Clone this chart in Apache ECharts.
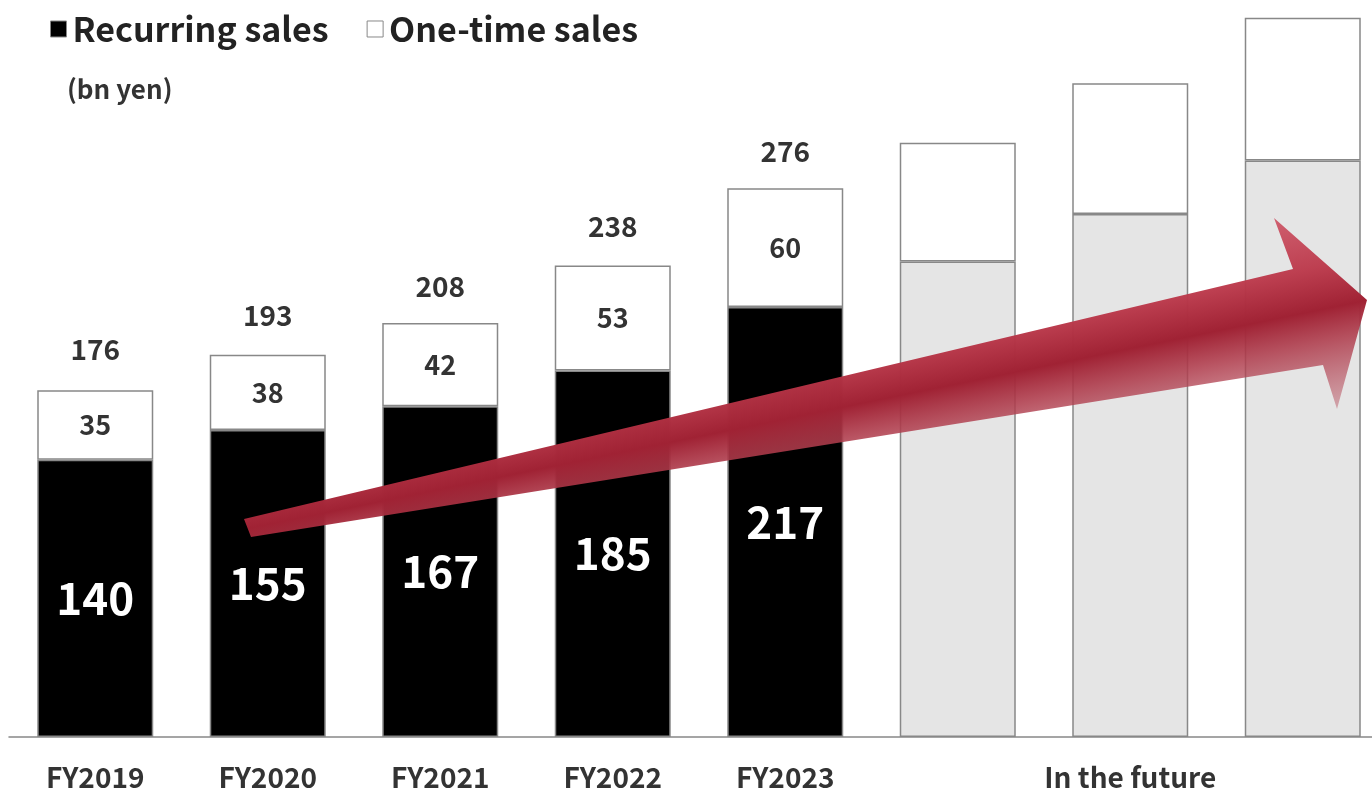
<!DOCTYPE html>
<html>
<head>
<meta charset="utf-8">
<script src="https://cdn.jsdelivr.net/npm/echarts@6/dist/echarts.min.js"></script>
<style>
html,body{margin:0;padding:0;background:#fff;}
#chart{width:1372px;height:791px;}
</style>
</head>
<body>
<div id="chart"></div>
<script>
// ---- data ----
var categories = ['FY2019', 'FY2020', 'FY2021', 'FY2022', 'FY2023', 'Future 1', 'Future 2', 'Future 3'];
var tickLabels = ['FY2019', 'FY2020', 'FY2021', 'FY2022', 'FY2023', '', 'In the future', ''];
var recurringSales = [140, 155, 167, 185, 217, 240, 264, 291];
var oneTimeSales = [35, 38, 42, 53, 60, 60, 66, 72];
var totalSales = [176, 193, 208, 238, 276, null, null, null];
var actualCount = 5; // first five categories are actual results

var FONT = '"Noto Sans CJK JP", "Noto Sans", sans-serif';
var chart = echarts.init(document.getElementById('chart'));

var recurringData = recurringSales.map(function (v, i) {
  if (i < actualCount) return v;
  return { value: v, itemStyle: { color: '#e5e5e5' }, label: { show: false } };
});
var oneTimeData = oneTimeSales.map(function (v, i) {
  if (i < actualCount) return v;
  return { value: v, label: { show: false } };
});

// arrow geometry (decoration)
var arrowPts = [[244, 519], [1293, 269], [1274, 218], [1367, 300], [1337, 409], [1323, 365], [251, 537]];
var arrowFill = new echarts.graphic.LinearGradient(1279, 211, 1321, 417, [
  { offset: 0, color: 'rgba(208,92,108,0.95)' },
  { offset: 0.3, color: 'rgba(188,58,76,0.97)' },
  { offset: 0.5, color: 'rgba(160,34,52,1)' },
  { offset: 0.65, color: 'rgba(175,60,76,0.88)' },
  { offset: 1, color: 'rgba(188,95,108,0.45)' }
], true);

chart.setOption({
  animation: false,
  backgroundColor: '#fff',
  textStyle: { fontFamily: FONT },
  title: {
    text: '(bn yen)',
    left: 62, top: 71,
    textStyle: { fontFamily: FONT, fontSize: 26, fontWeight: 'bold', color: '#333' }
  },
  legend: {
    left: 45, top: 7,
    itemWidth: 16, itemHeight: 16, itemGap: 38,
    icon: 'rect',
    textStyle: { fontFamily: FONT, fontSize: 34, fontWeight: 'bold', color: '#222', padding: [0, 0, 0, 1] },
    data: [
      { name: 'Recurring sales', itemStyle: { color: '#000', borderColor: '#888', borderWidth: 1 } },
      { name: 'One-time sales', itemStyle: { color: '#fff', borderColor: '#888', borderWidth: 1 } }
    ]
  },
  grid: { left: 9, top: 4, width: 1380, bottom: 54, outerBoundsMode: 'none' },
  xAxis: {
    type: 'category',
    data: categories,
    axisLine: { lineStyle: { color: '#888', width: 1.5 } },
    axisTick: { show: false },
    axisLabel: {
      interval: 0, margin: 26,
      fontFamily: FONT, fontSize: 28, fontWeight: 'bold', color: '#333',
      formatter: function (v, i) { return tickLabels[i]; }
    }
  },
  yAxis: { type: 'value', min: 0, max: 370, show: false, splitLine: { show: false } },
  series: [
    {
      name: 'Recurring sales', type: 'bar', stack: 'sales', barWidth: 116,
      data: recurringData,
      itemStyle: { color: '#000', borderColor: '#888', borderWidth: 1.5 },
      label: { show: true, position: 'inside', color: '#fff', fontFamily: FONT, fontSize: 44, fontWeight: 'bold' }
    },
    {
      name: 'One-time sales', type: 'bar', stack: 'sales', barWidth: 116,
      data: oneTimeData,
      itemStyle: { color: '#fff', borderColor: '#888', borderWidth: 1.5 },
      label: { show: true, position: 'inside', color: '#333', fontFamily: FONT, fontSize: 27, fontWeight: 'bold' }
    },
    {
      name: 'Total', type: 'bar', barWidth: 116, barGap: '-100%', silent: true,
      data: totalSales,
      itemStyle: { color: 'rgba(0,0,0,0)' },
      label: { show: true, position: 'top', distance: 25, color: '#333', fontFamily: FONT, fontSize: 28, fontWeight: 'bold' },
      z: 1
    }
  ],
  graphic: [
    {
      type: 'polygon', z: 100, silent: true,
      shape: { points: arrowPts },
      style: { fill: arrowFill }
    }
  ]
});
</script>
</body>
</html>
